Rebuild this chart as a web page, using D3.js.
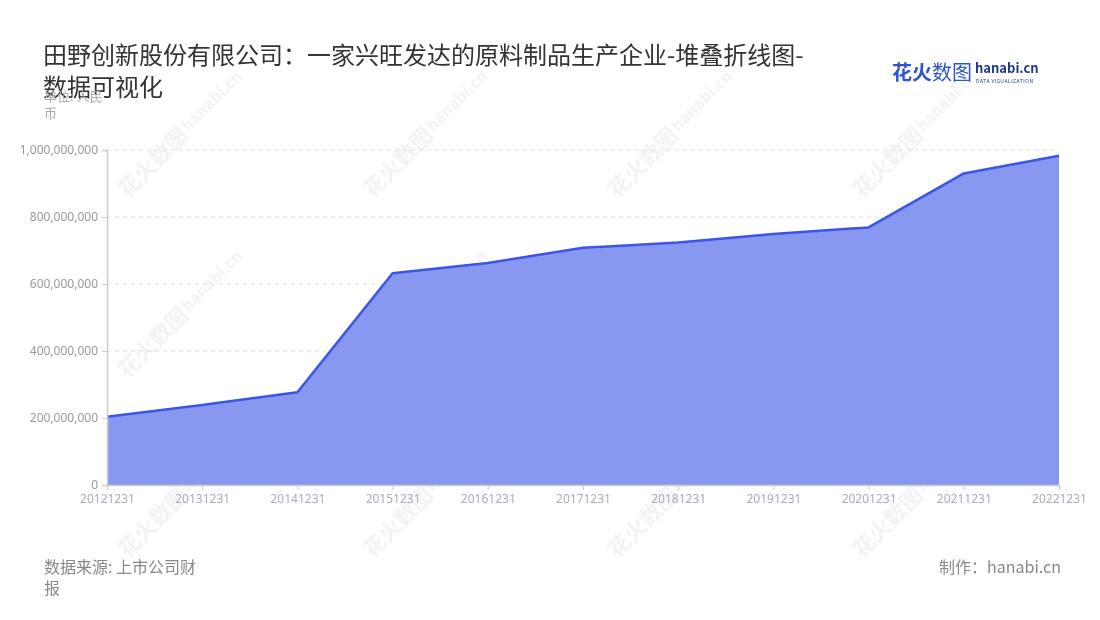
<!DOCTYPE html>
<html><head><meta charset="utf-8">
<script src="https://cdn.jsdelivr.net/npm/d3@7/dist/d3.min.js"></script>
<style>
html,body{margin:0;padding:0;background:#fff;}
svg{display:block;font-family:"Noto Sans CJK SC","Noto Sans",sans-serif;}
</style></head>
<body><svg id="c" width="1100" height="620"></svg>
<script>
const categories = ["20121231","20131231","20141231","20151231","20161231","20171231","20181231","20191231","20201231","20211231","20221231"];
const values = [204000000,239000000,277000000,632000000,663000000,708000000,724000000,749000000,769000000,930000000,983000000];
const yTicks = [0,200000000,400000000,600000000,800000000,1000000000];

const svg = d3.select("#c");
const m = {l:107, r:1059, t:150, b:485};

// watermarks
const wm = svg.append("g").attr("opacity",0.05);
[165,345,525].forEach(wy=>{
  [150,395,640,885].forEach(wx=>{
    const g = wm.append("g").attr("transform",`translate(${wx},${wy}) rotate(-45)`);
    g.append("text").attr("x",-40).attr("y",8).attr("font-size",22).attr("font-weight","bold").attr("fill","#000").text("花火数图");
    g.append("text").attr("x",50).attr("y",4).attr("font-size",16).attr("font-weight","bold").attr("fill","#000").text("hanabi.cn");
  });
});

const x = d3.scalePoint().domain(categories).range([m.l, m.r]);
const y = d3.scaleLinear().domain([0,1000000000]).range([m.b, m.t]);

// grid
svg.append("g").selectAll("line").data(yTicks.slice(1)).join("line")
  .attr("x1",m.l).attr("x2",m.r).attr("y1",d=>y(d)).attr("y2",d=>y(d))
  .attr("stroke","#e0e0e0").attr("stroke-dasharray","4,4");

// area
const area = d3.area().x((d,i)=>x(categories[i])).y0(y(0)).y1(d=>y(d));
svg.append("path").datum(values).attr("d",area).attr("fill","#8898f1");
const line = d3.line().x((d,i)=>x(categories[i])).y(d=>y(d));
svg.append("path").datum(values).attr("d",line).attr("fill","none").attr("stroke","#3a55e8").attr("stroke-width",2.5).attr("stroke-linejoin","round");

// y axis
const ya = svg.append("g").attr("transform",`translate(${m.l},0)`)
  .call(d3.axisLeft(y).tickValues(yTicks).tickSize(5).tickPadding(4).tickFormat(d3.format(",")));
ya.select(".domain").attr("stroke","#ccc").attr("stroke-width",1.5);
ya.selectAll(".tick line").attr("stroke","#ccc");
ya.selectAll(".tick text").attr("fill","#999").attr("font-size",12).attr("font-family","'Noto Sans','Noto Sans CJK SC',sans-serif");

// x axis
const xa = svg.append("g").attr("transform",`translate(0,${m.b})`)
  .call(d3.axisBottom(x).tickSize(5).tickPadding(4));
xa.select(".domain").attr("stroke","#ccc").attr("stroke-width",1.5);
xa.selectAll(".tick line").attr("stroke","#ccc");
xa.selectAll(".tick text").attr("fill","#a8acbc").attr("font-size",12).attr("font-family","'Noto Sans','Noto Sans CJK SC',sans-serif");

// title
const t = svg.append("text").attr("font-size",24).attr("fill","#333");
t.append("tspan").attr("x",43).attr("y",64).text("田野创新股份有限公司：一家兴旺发达的原料制品生产企业-堆叠折线图-");
t.append("tspan").attr("x",43).attr("y",96).text("数据可视化");

// unit
const u = svg.append("text").attr("font-size",13).attr("fill","#aaa");
u.append("tspan").attr("x",44).attr("y",101).text("单位: 人民");
u.append("tspan").attr("x",44).attr("y",118).text("币");

// footer
const f = svg.append("text").attr("font-size",16).attr("fill","#888");
f.append("tspan").attr("x",44).attr("y",573).text("数据来源: 上市公司财");
f.append("tspan").attr("x",44).attr("y",594).text("报");
svg.append("text").attr("x",1061).attr("y",573).attr("text-anchor","end").attr("font-size",16).attr("fill","#888").text("制作：hanabi.cn");

// logo
svg.append("text").attr("x",892).attr("y",80).attr("font-size",20).attr("font-weight","bold").attr("fill","#2f55c8").text("花火");
svg.append("text").attr("x",932).attr("y",80).attr("font-size",20).attr("fill","#2f55c8").text("数图");
svg.append("text").attr("x",975).attr("y",73).attr("font-size",13).attr("font-weight","bold").attr("fill","#1e3a8a").text("hanabi.cn");
svg.append("text").attr("x",976).attr("y",83).attr("font-size",5).attr("letter-spacing",0.5).attr("fill","#1e3a8a").text("DATA VISUALIZATION");
</script></body></html>
